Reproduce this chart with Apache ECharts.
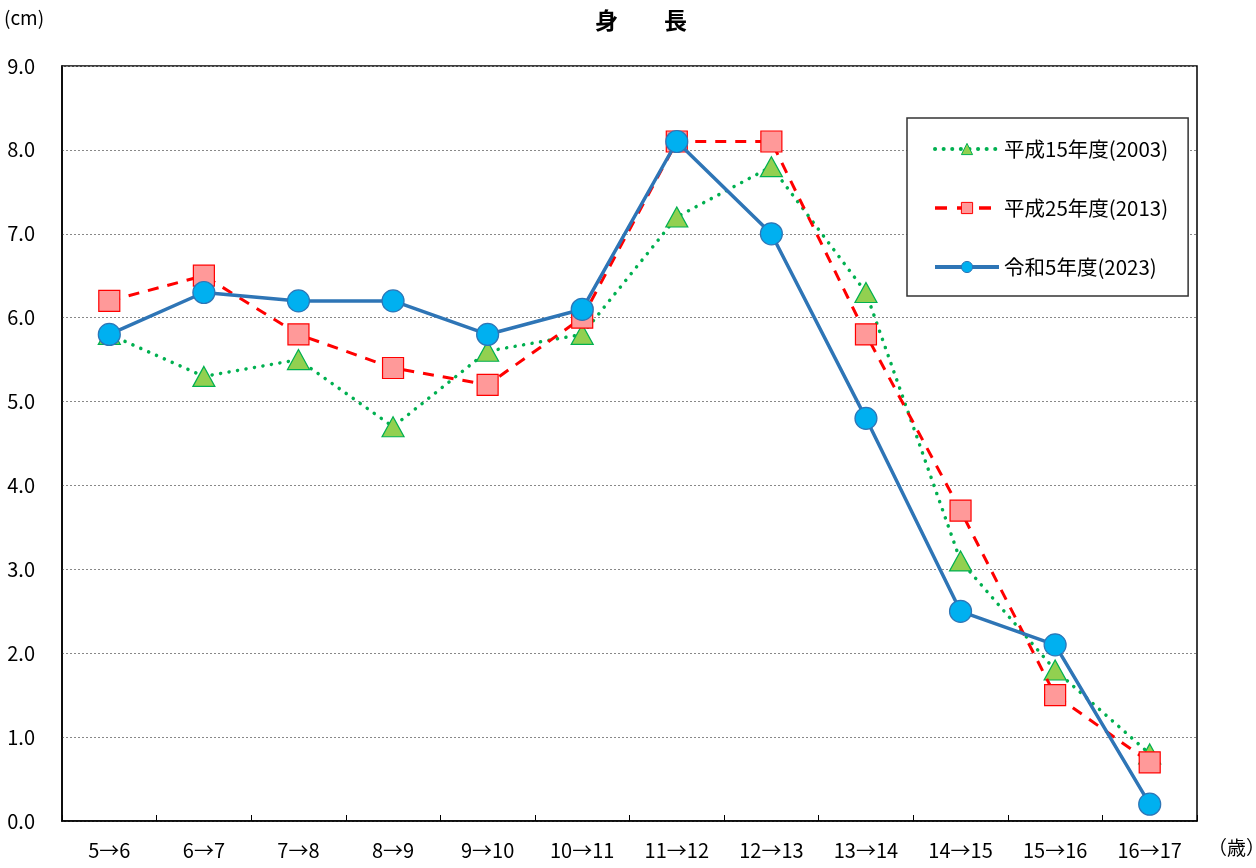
<!DOCTYPE html>
<html><head><meta charset="utf-8">
<script src="https://cdn.jsdelivr.net/npm/echarts@6/dist/echarts.min.js"></script>
<style>html,body{margin:0;padding:0;background:#fff}#c{width:1256px;height:868px}</style>
</head><body><div id="c"></div>
<script>
const categories = ['5→6','6→7','7→8','8→9','9→10','10→11','11→12','12→13','13→14','14→15','15→16','16→17'];
const seriesNames = ['平成15年度(2003)','平成25年度(2013)','令和5年度(2023)'];
const h2003 = [5.8,5.3,5.5,4.7,5.6,5.8,7.2,7.8,6.3,3.1,1.8,0.8];
const h2013 = [6.2,6.5,5.8,5.4,5.2,6.0,8.1,8.1,5.8,3.7,1.5,0.7];
const r2023 = [5.8,6.3,6.2,6.2,5.8,6.1,8.1,7.0,4.8,2.5,2.1,0.2];
const FONT = "'Noto Sans CJK JP',sans-serif";

const chart = echarts.init(document.getElementById('c'), null, {renderer:'canvas'});
chart.setOption({
  animation:false,
  backgroundColor:'#fff',
  textStyle:{fontFamily:FONT},
  title:{text:'身　　長', left:636, textAlign:'center', top:4,
    textStyle:{fontFamily:FONT, fontSize:23, fontWeight:'bold', color:'#000'}},
  graphic:[
    {type:'text', left:4, top:8, style:{text:'(cm)', font:"19px 'Noto Sans CJK JP'", fill:'#000'}},
    {type:'text', left:1208, top:838, style:{text:'（歳）', font:"19px 'Noto Sans CJK JP'", fill:'#000'}}
  ],
  grid:{left:62, right:59, top:66, bottom:47, show:true, borderColor:'#000', borderWidth:1.5, backgroundColor:'transparent'},
  legend:{
    orient:'vertical', left:907, top:118,
    padding:[20,20,18,26], itemGap:37, itemWidth:64, itemHeight:14,
    backgroundColor:'#fff', borderColor:'#333', borderWidth:1.5,
    textStyle:{fontSize:20.5, lineHeight:22, color:'#000', fontFamily:FONT},
    data:[
      {name:seriesNames[0], itemStyle:{color:'#92D050', borderColor:'#00B050', borderWidth:1},
        lineStyle:{color:'#00B050', width:4, type:[0.1,8.5], cap:'round'}},
      {name:seriesNames[1], itemStyle:{color:'#FF9999', borderColor:'#FF0000', borderWidth:1},
        lineStyle:{color:'#FF0000', width:3.5, type:[12,10]}},
      {name:seriesNames[2], itemStyle:{color:'#00B0F0', borderColor:'#2E75B6', borderWidth:1},
        lineStyle:{color:'#2E75B6', width:4}}
    ]
  },
  xAxis:{
    type:'category', data:categories, boundaryGap:true,
    axisLine:{lineStyle:{color:'#000', width:1.5}},
    axisTick:{show:true, inside:true, length:6, lineStyle:{color:'#000'}},
    axisLabel:{fontSize:20, color:'#000', margin:19, interval:0, fontFamily:FONT}
  },
  yAxis:{
    type:'value', min:0, max:9, interval:1,
    axisLine:{show:true, lineStyle:{color:'#000', width:1.5}},
    axisTick:{show:false},
    axisLabel:{fontSize:20, color:'#000', margin:27, fontFamily:FONT, formatter:v=>v.toFixed(1)},
    splitLine:{lineStyle:{color:'#888', type:[2,2], width:1}}
  },
  series:[
    {name:seriesNames[0], type:'line', data:h2003, z:2,
      symbol:'triangle', symbolSize:[22,20],
      lineStyle:{color:'#00B050', width:3.5, type:[0.1,8.5], cap:'round'},
      itemStyle:{color:'#92D050', borderColor:'#00B050', borderWidth:1.2}},
    {name:seriesNames[1], type:'line', data:h2013, z:3,
      symbol:'rect', symbolSize:21,
      lineStyle:{color:'#FF0000', width:3, type:[11,9]},
      itemStyle:{color:'#FF9999', borderColor:'#FF0000', borderWidth:1.2}},
    {name:seriesNames[2], type:'line', data:r2023, z:4,
      symbol:'circle', symbolSize:22,
      lineStyle:{color:'#2E75B6', width:3.5},
      itemStyle:{color:'#00B0F0', borderColor:'#2E75B6', borderWidth:1.2}}
  ]
});
</script></body></html>
